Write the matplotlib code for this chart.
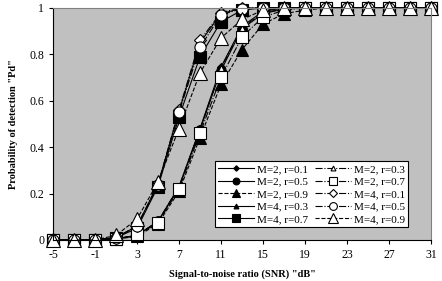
import numpy as np
import matplotlib
matplotlib.use("Agg")
import matplotlib.pyplot as plt

plt.rcParams['font.family'] = ['Liberation Serif', 'DejaVu Serif']
plt.rcParams['axes.unicode_minus'] = False

# SNR (dB) en los puntos de la simulación
snr = [-5, -3, -1, 1, 3, 5, 7, 9, 11, 13, 15, 17, 19, 21, 23, 25, 27, 29, 31]

# M = 2
pd_m2_r01 = [0, 0, 0, 0.005, 0.02, 0.08, 0.23, 0.48, 0.745, 0.92, 0.985, 1, 1, 1, 1, 1, 1, 1, 1]
pd_m2_r05 = [0, 0, 0, 0.005, 0.02, 0.08, 0.225, 0.475, 0.73, 0.91, 0.975, 0.995, 1, 1, 1, 1, 1, 1, 1]
pd_m2_r09 = [0, 0, 0, 0.004, 0.015, 0.07, 0.21, 0.44, 0.67, 0.82, 0.93, 0.975, 0.99, 1, 1, 1, 1, 1, 1]
pd_m2_r03 = [0, 0, 0, 0.005, 0.02, 0.08, 0.23, 0.475, 0.74, 0.915, 0.98, 0.995, 1, 1, 1, 1, 1, 1, 1]
pd_m2_r07 = [0, 0, 0, 0.005, 0.02, 0.075, 0.22, 0.46, 0.70, 0.875, 0.96, 0.99, 1, 1, 1, 1, 1, 1, 1]

# M = 4
pd_m4_r01 = [0, 0, 0, 0.01, 0.06, 0.24, 0.56, 0.86, 0.98, 1, 1, 1, 1, 1, 1, 1, 1, 1, 1]
pd_m4_r03 = [0, 0, 0, 0.01, 0.06, 0.24, 0.555, 0.85, 0.975, 0.998, 1, 1, 1, 1, 1, 1, 1, 1, 1]
pd_m4_r05 = [0, 0, 0, 0.01, 0.06, 0.235, 0.55, 0.83, 0.97, 0.997, 1, 1, 1, 1, 1, 1, 1, 1, 1]
pd_m4_r07 = [0, 0, 0, 0.01, 0.05, 0.23, 0.53, 0.79, 0.94, 0.99, 1, 1, 1, 1, 1, 1, 1, 1, 1]
pd_m4_r09 = [0, 0, 0, 0.02, 0.09, 0.25, 0.48, 0.72, 0.87, 0.95, 0.99, 1, 1, 1, 1, 1, 1, 1, 1]

# (datos, etiqueta, marcador, relleno, estilo de línea, tamaño)
series = [
    (pd_m2_r01, 'M=2, r=0.1', 'D', 'black', '-', 4),
    (pd_m2_r05, 'M=2, r=0.5', 'o', 'black', '-', 7),
    (pd_m2_r09, 'M=2, r=0.9', '^', 'black', '--', 9),
    (pd_m4_r03, 'M=4, r=0.3', '^', 'black', '-', 5),
    (pd_m4_r07, 'M=4, r=0.7', 's', 'black', '-', 8),
    (pd_m2_r03, 'M=2, r=0.3', '^', 'white', '-.', 5),
    (pd_m2_r07, 'M=2, r=0.7', 's', 'white', '-.', 8),
    (pd_m4_r01, 'M=4, r=0.1', 'D', 'white', '-.', 6),
    (pd_m4_r05, 'M=4, r=0.5', 'o', 'white', '-.', 8),
    (pd_m4_r09, 'M=4, r=0.9', '^', 'white', '--', 10),
]

fig = plt.figure(figsize=(4.42, 2.81), dpi=100)
ax = fig.add_axes([0.12, 0.146, 0.855, 0.826])
ax.set_facecolor('#c0c0c0')

for datos, etiqueta, mk, fc, ls, ms in series:
    ax.plot(snr, datos, color='black', linestyle=ls, linewidth=0.8,
            marker=mk, markerfacecolor=fc, markeredgecolor='black',
            markersize=ms, markeredgewidth=0.8, label=etiqueta, clip_on=False)

ax.set_xlim(-5, 31)
ax.set_ylim(0, 1)
ax.set_xticks(range(-5, 32, 4))
ax.set_yticks([0, 0.2, 0.4, 0.6, 0.8, 1])
ax.set_yticklabels(['0', '0.2', '0.4', '0.6', '0.8', '1'])
ax.tick_params(labelsize=8.5, direction='out', length=3, width=0.8)

for s in ['left', 'bottom']:
    ax.spines[s].set_color('black')
for s in ['top', 'right']:
    ax.spines[s].set_color('#808080')

ax.set_xlabel('Signal-to-noise ratio (SNR) "dB"', fontsize=7.5, fontweight='bold', labelpad=6)
ax.set_ylabel('Probability of detection "Pd"', fontsize=7.5, fontweight='bold', labelpad=8)

leg = ax.legend(ncol=2, loc='lower right', bbox_to_anchor=(0.955, 0.03),
                fontsize=8, frameon=True, fancybox=False, edgecolor='black',
                framealpha=1, handlelength=3.2, markerscale=0.7,
                columnspacing=0.6, handletextpad=0.3, labelspacing=0.25,
                borderpad=0.3)
leg.get_frame().set_linewidth(0.8)

fig.savefig('out.png', dpi=100)
